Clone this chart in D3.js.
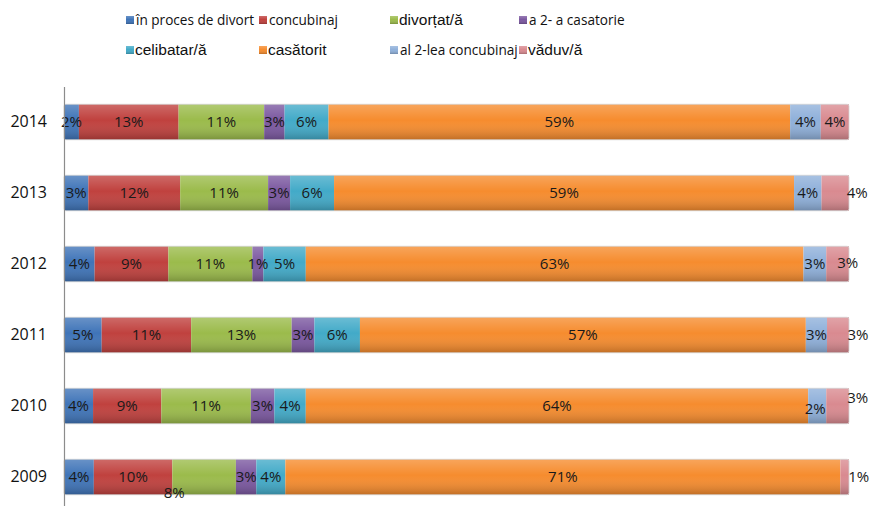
<!DOCTYPE html>
<html>
<head>
<meta charset="utf-8">
<script src="https://cdn.jsdelivr.net/npm/d3@7"></script>
<style>
  body { margin: 0; background: #fff; }
  svg { display: block; }
</style>
</head>
<body>
<svg id="chart" width="870" height="506"></svg>
<script>
// stacked 100% bars, one per year

const years = ["2014", "2013", "2012", "2011", "2010", "2009"];
const categories = ["în proces de divort", "concubinaj", "divorțat/ă", "a 2- a casatorie",
                    "celibatar/ă", "casătorit", "al 2-lea concubinaj", "văduv/ă"];
const colors = ["#3f74b8", "#c0413e", "#9bbb4b", "#7b58a0", "#42aac8", "#f68c2e", "#8fb0da", "#d98a90"];

// percent per category, same order as categories
const v2014 = [1.9, 12.7, 10.9, 2.6, 5.6, 58.8, 3.9, 3.6];
const v2013 = [3.1, 11.7, 11.2, 2.8, 5.6, 58.6, 3.5, 3.5];
const v2012 = [3.9, 9.4, 10.7, 1.4, 5.4, 63.4, 2.9, 2.9];
const v2011 = [4.8, 11.4, 12.8, 2.9, 5.8, 56.8, 2.7, 2.8];
const v2010 = [3.7, 8.7, 11.4, 3.0, 4.0, 64.0, 2.3, 2.9];
const v2009 = [3.8, 10.0, 8.1, 2.6, 3.7, 70.7, 0, 1.1];
const valuesByYear = { "2014": v2014, "2013": v2013, "2012": v2012, "2011": v2011, "2010": v2010, "2009": v2009 };

const svg = d3.select("#chart");
const defs = svg.append("defs");

const x = d3.scaleLinear().domain([0, 100]).range([64, 849]);
const y = d3.scaleBand().domain(years).range([86.5, 512.5]).paddingInner(0.5).paddingOuter(0.25);

// shading like the office bevel
const grad = defs.append("linearGradient").attr("id", "shade").attr("x1", 0).attr("y1", 0).attr("x2", 0).attr("y2", 1);
grad.append("stop").attr("offset", "0%").attr("stop-color", "#fff").attr("stop-opacity", 0.22);
grad.append("stop").attr("offset", "45%").attr("stop-color", "#fff").attr("stop-opacity", 0.0);
grad.append("stop").attr("offset", "100%").attr("stop-color", "#000").attr("stop-opacity", 0.22);

const rows = years.map(yr => {
  let acc = 0;
  return valuesByYear[yr].map((v, i) => {
    const seg = { year: yr, i, v, x0: acc, x1: acc + v };
    acc += v;
    return seg;
  });
});

const rowG = svg.selectAll("g.row").data(rows).join("g").attr("class", "row");

rowG.selectAll("rect.seg")
  .data(d => d.filter(s => s.v > 0))
  .join("rect")
  .attr("class", "seg")
  .attr("x", d => x(d.x0))
  .attr("y", d => y(d.year))
  .attr("width", d => x(d.x1) - x(d.x0))
  .attr("height", y.bandwidth())
  .attr("fill", d => colors[d.i]);

rowG.append("rect")
  .attr("x", x(0))
  .attr("y", d => y(d[0].year))
  .attr("width", x(100) - x(0))
  .attr("height", y.bandwidth())
  .attr("rx", 2)
  .attr("fill", "url(#shade)")
  .attr("stroke", "#d4d4d4")
  .attr("stroke-width", 0.8);

// axis
const axis = svg.append("g")
  .attr("transform", `translate(${x(0)},0)`)
  .call(d3.axisLeft(y).tickSize(0).tickPadding(17));
axis.select(".domain").attr("stroke", "#8c8c8c").attr("stroke-width", 1.2);
axis.selectAll("text")
  .attr("fill", "#111")
  .style("font-family", "'Open Sans', sans-serif")
  .style("font-size", "16px");

// data labels; a few were dragged by hand in the original
const nudge = {
  "2013|7": [22, 0], "2012|7": [10, -1], "2011|7": [20, 0], "2010|7": [20, -8], "2009|7": [14, 0],
  "2010|6": [-2, 3], "2009|2": [-30, 16]
};

rowG.selectAll("text.lbl")
  .data(d => d.filter(s => s.v > 0))
  .join("text")
  .attr("class", "lbl")
  .attr("x", d => (x(d.x0) + x(d.x1)) / 2 + (nudge[d.year + "|" + d.i] || [0, 0])[0])
  .attr("y", d => y(d.year) + y.bandwidth() / 2 + (nudge[d.year + "|" + d.i] || [0, 0])[1])
  .attr("text-anchor", "middle")
  .attr("dy", "0.35em")
  .attr("fill", "#1a1a1a")
  .style("font-family", "'Open Sans', sans-serif")
  .style("font-size", "15px")
  .text(d => Math.round(d.v) + "%");

// legend, 4 columns x 2 rows
const legCols = [126, 259, 390, 519];
const legRows = [20, 50];
const arialLike = new Set(["divorțat/ă", "celibatar/ă", "casătorit", "văduv/ă"]);

const leg = svg.append("g").selectAll("g")
  .data(categories)
  .join("g")
  .attr("transform", (d, i) => `translate(${legCols[i % 4]},${legRows[Math.floor(i / 4)]})`);

leg.append("rect")
  .attr("x", 0).attr("y", -4)
  .attr("width", 8).attr("height", 8)
  .attr("fill", (d, i) => colors[i]);
leg.append("rect")
  .attr("x", 0).attr("y", -4)
  .attr("width", 8).attr("height", 8)
  .attr("fill", "url(#shade)");

leg.append("text")
  .attr("x", d => arialLike.has(d) ? 9 : 10)
  .attr("dy", "0.35em")
  .attr("fill", "#111")
  .style("font-family", d => arialLike.has(d) ? "'Liberation Sans', Arial, sans-serif" : "'Open Sans', sans-serif")
  .style("font-size", d => arialLike.has(d) ? "15.5px" : "13.6px")
  .text(d => d);
</script>
</body>
</html>
